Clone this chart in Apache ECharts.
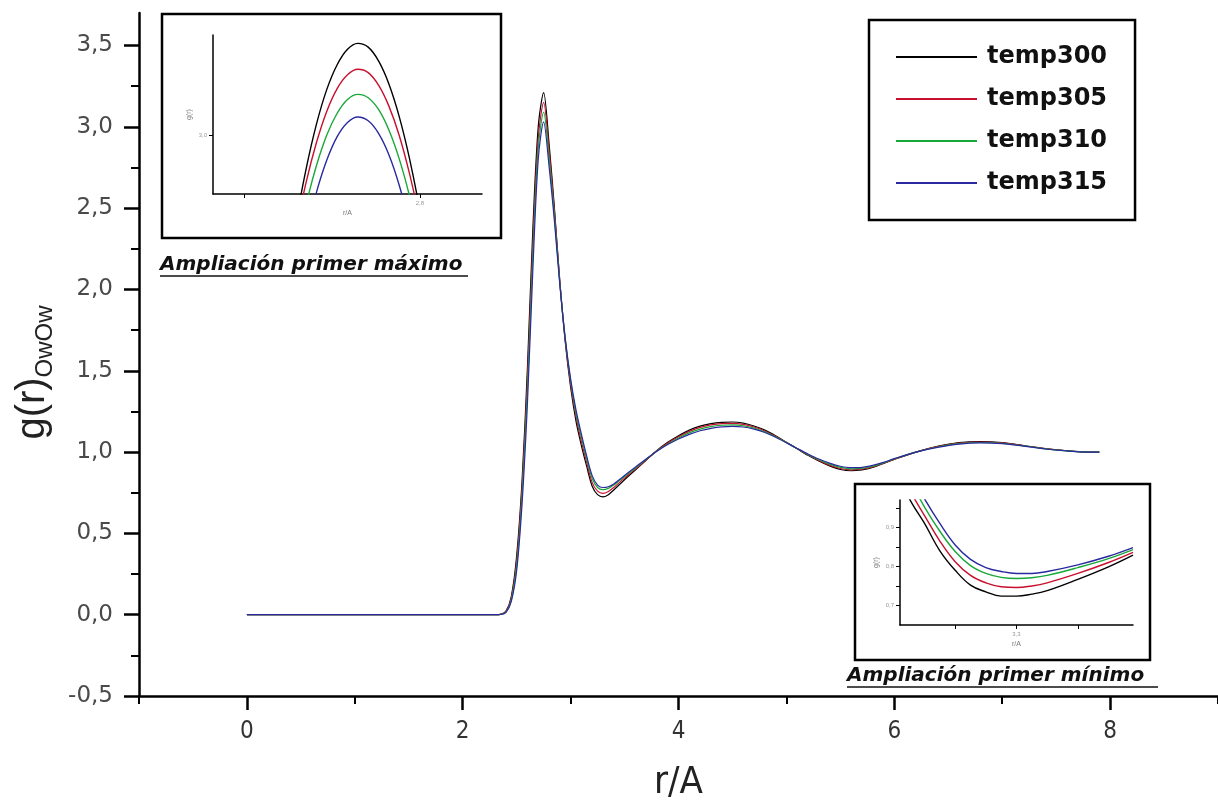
<!DOCTYPE html>
<html>
<head>
<meta charset="utf-8">
<title>g(r) OwOw</title>
<script src="https://cdn.jsdelivr.net/npm/echarts@6/dist/echarts.min.js"></script>
<style>
    html, body { margin: 0; padding: 0; background: #fff; }
    #chart { width: 1218px; height: 807px; }
</style>
</head>
<body>
<div id="chart"></div>
<script>
// nombres de las series
var seriesNames = ['temp300', 'temp305', 'temp310', 'temp315'];
var seriesColors = ['#000000', '#c8102e', '#18a838', '#2a2aa0'];

// g(r) completa
var r = [0, 1, 2, 2.3, 2.35,
    2.4, 2.45, 2.5, 2.55, 2.6, 2.65, 2.7, 2.75, 2.8, 2.85, 2.9, 2.95, 3.0, 3.05, 3.1, 3.15, 3.2, 3.25, 3.3, 3.35, 3.4,
    3.5, 3.6, 3.7, 3.8, 3.9, 4.0, 4.1, 4.2, 4.3, 4.4, 4.5, 4.6, 4.7, 4.8, 4.9, 5.0, 5.1, 5.2, 5.3, 5.4, 5.5, 5.6, 5.7, 5.8, 5.9, 6.0,
    6.2, 6.4, 6.6, 6.8, 7.0, 7.2, 7.4, 7.6, 7.8, 7.9];
var temp300 = [0, 0, 0, 0, 0.002,
    0.02, 0.11, 0.36, 0.82, 1.52, 2.37, 3.0, 3.21, 2.9, 2.5, 2.05, 1.68, 1.4, 1.19, 1.04, 0.91, 0.79, 0.738, 0.724, 0.738, 0.767,
    0.83, 0.89, 0.95, 1.01, 1.06, 1.1, 1.135, 1.16, 1.175, 1.183, 1.185, 1.178, 1.16, 1.135, 1.1, 1.06, 1.02, 0.98, 0.945, 0.915, 0.893, 0.885, 0.89, 0.905, 0.93, 0.955,
    1.0, 1.035, 1.058, 1.065, 1.058, 1.04, 1.022, 1.008, 1.0, 1.0];
var temp305 = [0, 0, 0, 0, 0.002,
    0.018, 0.1, 0.33, 0.78, 1.45, 2.29, 2.93, 3.15, 2.86, 2.48, 2.05, 1.69, 1.42, 1.22, 1.065, 0.935, 0.812, 0.76, 0.746, 0.758, 0.782,
    0.84, 0.895, 0.952, 1.008, 1.055, 1.094, 1.127, 1.152, 1.167, 1.175, 1.176, 1.17, 1.154, 1.13, 1.097, 1.059, 1.021, 0.983, 0.949, 0.92, 0.899, 0.891, 0.895, 0.909, 0.932, 0.957,
    1.0, 1.033, 1.055, 1.062, 1.056, 1.039, 1.021, 1.008, 1.0, 1.0];
var temp310 = [0, 0, 0, 0, 0.001,
    0.015, 0.09, 0.3, 0.73, 1.38, 2.21, 2.87, 3.09, 2.81, 2.45, 2.04, 1.7, 1.44, 1.24, 1.09, 0.955, 0.838, 0.782, 0.769, 0.777, 0.797,
    0.85, 0.902, 0.956, 1.007, 1.05, 1.087, 1.118, 1.141, 1.157, 1.165, 1.167, 1.162, 1.148, 1.125, 1.094, 1.058, 1.021, 0.985, 0.953, 0.926, 0.906, 0.897, 0.9, 0.913, 0.934, 0.958,
    1.0, 1.031, 1.052, 1.059, 1.054, 1.038, 1.02, 1.007, 1.0, 1.0];
var temp315 = [0, 0, 0, 0, 0.001,
    0.012, 0.08, 0.27, 0.68, 1.3, 2.12, 2.8, 3.03, 2.76, 2.42, 2.03, 1.7, 1.45, 1.26, 1.11, 0.973, 0.855, 0.797, 0.782, 0.787, 0.804,
    0.856, 0.907, 0.958, 1.005, 1.046, 1.08, 1.109, 1.131, 1.146, 1.155, 1.158, 1.154, 1.141, 1.12, 1.091, 1.057, 1.022, 0.988, 0.957, 0.932, 0.913, 0.904, 0.906, 0.918, 0.937, 0.96,
    1.0, 1.029, 1.049, 1.056, 1.052, 1.037, 1.019, 1.007, 1.0, 1.0];

// ampliacion primer maximo
var insetMaxR = [2.67, 2.68, 2.69, 2.70, 2.71, 2.72, 2.73, 2.74, 2.75, 2.76, 2.77, 2.78, 2.79, 2.80, 2.81];
var insetMax300 = [2.64, 2.79, 2.92, 3.027, 3.11, 3.169, 3.206, 3.22, 3.211, 3.178, 3.123, 3.045, 2.944, 2.82, 2.672];
var insetMax305 = [2.634, 2.771, 2.888, 2.983, 3.058, 3.112, 3.145, 3.158, 3.15, 3.12, 3.07, 3.0, 2.908, 2.796, 2.663];
var insetMax310 = [2.589, 2.722, 2.835, 2.928, 3.001, 3.053, 3.086, 3.098, 3.09, 3.062, 3.013, 2.944, 2.855, 2.746, 2.617];
var insetMax315 = [2.505, 2.646, 2.766, 2.864, 2.941, 2.997, 3.031, 3.044, 3.035, 3.005, 2.954, 2.881, 2.787, 2.672, 2.535];

// ampliacion primer minimo
var insetMinR = [3.11, 3.13, 3.15, 3.175, 3.2, 3.225, 3.25, 3.275, 3.3, 3.325, 3.35, 3.4, 3.45, 3.49];
var insetMin300 = [1.02, 0.96, 0.91, 0.84, 0.79, 0.752, 0.735, 0.724, 0.724, 0.729, 0.738, 0.767, 0.799, 0.829];
var insetMin305 = [1.04, 0.983, 0.93, 0.865, 0.812, 0.777, 0.758, 0.748, 0.746, 0.75, 0.758, 0.782, 0.81, 0.836];
var insetMin310 = [1.07, 1.01, 0.952, 0.89, 0.838, 0.802, 0.782, 0.772, 0.769, 0.771, 0.777, 0.797, 0.82, 0.843];
var insetMin315 = [1.1, 1.03, 0.973, 0.91, 0.855, 0.818, 0.797, 0.787, 0.782, 0.782, 0.787, 0.804, 0.826, 0.848];

// marcas de los ejes
var xMajorTicks = [0, 2, 4, 6, 8];
var xMinorTicks = [-1, 1, 3, 5, 7, 9];
var yMajorTicks = [-0.5, 0, 0.5, 1.0, 1.5, 2.0, 2.5, 3.0, 3.5];
var yMinorTicks = [-0.25, 0.25, 0.75, 1.25, 1.75, 2.25, 2.75, 3.25];
var insetMaxXTicks = [2.63, 2.8];
var insetMaxYTicks = [3.0];
var insetMinXTicks = [3.2, 3.3, 3.4];
var insetMinYTicks = [0.7, 0.75, 0.8, 0.85, 0.9, 0.95];

function zip(xs, ys) {
    var out = [];
    for (var i = 0; i < xs.length; i++) out.push([xs[i], ys[i]]);
    return out;
}
function coma(v, d) {
    return Number(v).toFixed(d).replace('.', ',');
}

var mainData = [temp300, temp305, temp310, temp315];
var maxData = [insetMax300, insetMax305, insetMax310, insetMax315];
var minData = [insetMin300, insetMin305, insetMin310, insetMin315];

var wide = "'DejaVu Sans', sans-serif";
var narrow = "'Liberation Sans Narrow', 'DejaVu Sans Condensed', sans-serif";
var black = '#000';

// ejes pequeños de las ampliaciones
function insetX(grid, min, max, ticks, labelled) {
    return {
        type: 'value', gridIndex: grid, min: min, max: max, position: 'bottom',
        axisLine: {onZero: false, lineStyle: {color: black, width: 1.5}},
        axisTick: {customValues: ticks, length: 4, lineStyle: {color: black, width: 1}},
        axisLabel: {customValues: labelled, fontSize: 6, color: '#999', margin: 6,
            formatter: function (v) { return coma(v, 1); }},
        splitLine: {show: false},
        name: 'r/A', nameLocation: 'middle', nameGap: 16,
        nameTextStyle: {fontSize: 7, color: '#777'}
    };
}
function insetY(grid, min, max, ticks, labelled) {
    return {
        type: 'value', gridIndex: grid, min: min, max: max, position: 'left',
        axisLine: {onZero: false, lineStyle: {color: black, width: 1.5}},
        axisTick: {customValues: ticks, length: 4, lineStyle: {color: black, width: 1}},
        axisLabel: {customValues: labelled, fontSize: 6, color: '#999', margin: 6,
            formatter: function (v) { return coma(v, 1); }},
        splitLine: {show: false},
        name: 'g(r)', nameLocation: 'middle', nameGap: 20,
        nameTextStyle: {fontSize: 7, color: '#777'}
    };
}

var series = [];
seriesNames.forEach(function (name, i) {
    series.push({
        name: name, type: 'line', xAxisIndex: 0, yAxisIndex: 0,
        data: zip(r, mainData[i]), showSymbol: false, smooth: 0.3,
        lineStyle: {color: seriesColors[i], width: 1.2}, itemStyle: {color: seriesColors[i]}
    });
});
seriesNames.forEach(function (name, i) {
    series.push({
        name: name, type: 'line', xAxisIndex: 2, yAxisIndex: 2,
        data: zip(insetMaxR, maxData[i]), showSymbol: false, smooth: 0.4, clip: true,
        lineStyle: {color: seriesColors[i], width: 1.4}, itemStyle: {color: seriesColors[i]}
    });
    series.push({
        name: name, type: 'line', xAxisIndex: 3, yAxisIndex: 3,
        data: zip(insetMinR, minData[i]), showSymbol: false, smooth: 0.4, clip: true,
        lineStyle: {color: seriesColors[i], width: 1.4}, itemStyle: {color: seriesColors[i]}
    });
});

var myChart = echarts.init(document.getElementById('chart'));
var option = {
    animation: false,
    backgroundColor: '#fff',
    grid: [
        {left: 139, right: 0, top: 13, bottom: 108},
        {left: 213, top: 35, width: 269, height: 159},
        {left: 900, top: 500, width: 233, height: 125}
    ],
    legend: {
        orient: 'vertical', left: 869, top: 20,
        padding: [22, 28, 22, 27], itemGap: 12,
        itemWidth: 81, itemHeight: 2, icon: 'rect',
        borderColor: black, borderWidth: 2.5,
        textStyle: {fontFamily: wide, fontWeight: 'bold', fontSize: 24, color: '#111', lineHeight: 30, padding: [0, 0, 0, 5]},
        data: seriesNames
    },
    xAxis: [
        {
            type: 'value', gridIndex: 0, min: -1, max: 9, position: 'bottom',
            axisLine: {onZero: false, lineStyle: {color: black, width: 2.5}},
            axisTick: {customValues: xMajorTicks, length: 14, lineStyle: {color: black, width: 2.5}},
            axisLabel: {customValues: xMajorTicks, margin: 24, fontFamily: narrow, fontSize: 24, color: '#333'},
            splitLine: {show: false},
            name: 'r/A', nameLocation: 'middle', nameGap: 68,
            nameTextStyle: {fontFamily: narrow, fontSize: 38, color: '#222'}
        },
        {
            type: 'value', gridIndex: 0, min: -1, max: 9, position: 'bottom',
            axisLine: {show: false, onZero: false},
            axisTick: {customValues: xMinorTicks, length: 8, lineStyle: {color: black, width: 2}},
            axisLabel: {show: false},
            splitLine: {show: false}
        },
        insetX(1, 2.6, 2.86, insetMaxXTicks, [2.8]),
        insetX(2, 3.11, 3.49, insetMinXTicks, [3.3])
    ],
    yAxis: [
        {
            type: 'value', gridIndex: 0, min: -0.5, max: 3.7, position: 'left',
            axisLine: {onZero: false, lineStyle: {color: black, width: 2.5}},
            axisTick: {customValues: yMajorTicks, length: 15, lineStyle: {color: black, width: 2.5}},
            axisLabel: {customValues: yMajorTicks, margin: 26, fontFamily: wide, fontSize: 23, color: '#4a4a4a',
                formatter: function (v) { return coma(v, 1); }},
            splitLine: {show: false},
            name: '{a|g(r)}{b|OwOw}', nameLocation: 'middle', nameGap: 68,
            nameTextStyle: {
                rich: {
                    a: {fontFamily: "'Liberation Sans', sans-serif", fontSize: 40, color: '#222', lineHeight: 48},
                    b: {fontFamily: "'Liberation Sans', sans-serif", fontSize: 24, color: '#222', lineHeight: 24,
                        verticalAlign: 'bottom', padding: [0, 36, 0, 0]}
                }
            }
        },
        {
            type: 'value', gridIndex: 0, min: -0.5, max: 3.7, position: 'left',
            axisLine: {show: false, onZero: false},
            axisTick: {customValues: yMinorTicks, length: 8, lineStyle: {color: black, width: 2}},
            axisLabel: {show: false},
            splitLine: {show: false}
        },
        insetY(1, 2.86, 3.24, [3.0], insetMaxYTicks),
        insetY(2, 0.65, 0.97, insetMinYTicks, [0.7, 0.8, 0.9])
    ],
    graphic: [
        {type: 'rect', shape: {x: 162, y: 14, width: 339, height: 224},
            style: {fill: 'none', stroke: black, lineWidth: 2.5}},
        {type: 'text', x: 160, y: 265,
            style: {text: 'Ampliación primer máximo', fontFamily: wide, fontWeight: 'bold', fontStyle: 'italic',
                fontSize: 20, fill: '#111', verticalAlign: 'middle'}},
        {type: 'line', shape: {x1: 160, y1: 276, x2: 468, y2: 276}, style: {stroke: '#111', lineWidth: 1.5}},
        {type: 'rect', shape: {x: 855, y: 484, width: 295, height: 176},
            style: {fill: 'none', stroke: black, lineWidth: 2.5}},
        {type: 'text', x: 847, y: 676,
            style: {text: 'Ampliación primer mínimo', fontFamily: wide, fontWeight: 'bold', fontStyle: 'italic',
                fontSize: 20, fill: '#111', verticalAlign: 'middle'}},
        {type: 'line', shape: {x1: 847, y1: 687, x2: 1158, y2: 687}, style: {stroke: '#111', lineWidth: 1.5}}
    ],
    series: series
};
myChart.setOption(option);
</script>
</body>
</html>
